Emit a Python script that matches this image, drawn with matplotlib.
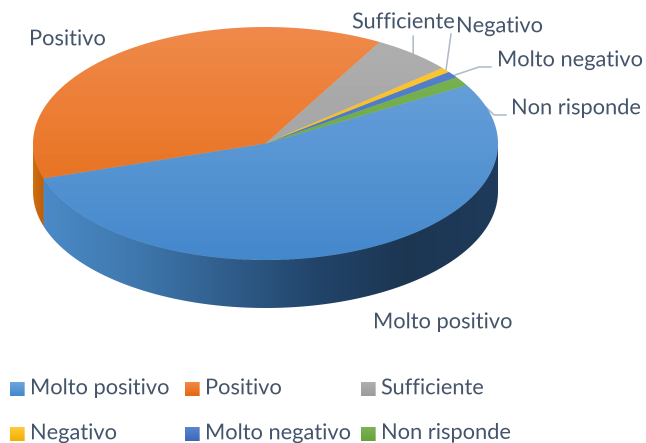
"""
Torta 3D con etichette esterne e legenda su due righe
"""
import io
import matplotlib
matplotlib.use('Agg')
import matplotlib.pyplot as plt
from matplotlib.colors import LinearSegmentedColormap
from matplotlib.patches import Rectangle, PathPatch
from matplotlib.path import Path
import numpy as np

categorie = ['Molto positivo', 'Positivo', 'Sufficiente', 'Negativo', 'Molto negativo', 'Non risponde']
valori = [53.5, 38.0, 5.6, 0.7, 0.9, 1.3]

# colori (alto, basso) del piano superiore
colori_top = [('#70a6dd', '#4488cc'), ('#f08a4b', '#e5690f'), ('#b0b0b0', '#9c9c9c'),
              ('#ffcb3a', '#f0b000'), ('#5b86cf', '#3a68b8'), ('#7cb455', '#66a33c')]
colori_lato = [['#4a8ac6', '#3f78ae', '#305e8c', '#22446a', '#1c3652', '#1f3b5b'],
               ['#d0700f', '#bd5f0c'], ['#7a7a7a', '#6a6a6a'], ['#b88a00', '#a07800'],
               ['#2c4d88', '#24407a'], ['#4e7d2e', '#446e28']]
colore_testo = '#44546a'
colore_linea = '#adb9ca'

W, H = 646, 443
CX, CY, A, B = 265.5, 143.5, 232.5, 116.5
PROF = 48 / B
SCALA = 3

plt.rcParams['font.family'] = ['Lato', 'DejaVu Sans']


def px(x, y):
    # da pixel dell'immagine a coordinate del grafico
    return (x - CX) / A, (CY - y) / B


def gradiente(ax, colori, patch, extent, orizzontale=False):
    cmap = LinearSegmentedColormap.from_list('g', colori)
    g = np.linspace(0, 1, 256)
    g = g.reshape(1, -1) if orizzontale else g.reshape(-1, 1)
    im = ax.imshow(g, cmap=cmap, extent=extent, origin='upper', aspect='auto',
                   interpolation='bilinear', zorder=patch.get_zorder() - 0.1)
    im.set_clip_path(patch)


fig = plt.figure(figsize=(W / 100, H / 100), dpi=100)
ax = fig.add_axes([0, 0, 1, 1])

wedges, _ = ax.pie(valori, startangle=30, counterclock=False, radius=1)

# fianco del cilindro, solo la parte anteriore (180-360 gradi)
for i, w in enumerate(wedges):
    for k in (-360, 0, 360):
        t1 = max(w.theta1 + k, 180)
        t2 = min(w.theta2 + k, 360)
        if t2 <= t1:
            continue
        t = np.radians(np.linspace(t1, t2, 120))
        sup = np.column_stack([np.cos(t), np.sin(t)])
        inf = sup[::-1] - [0, PROF]
        lato = PathPatch(Path(np.vstack([sup, inf, sup[:1]])), facecolor='none',
                         edgecolor='none', zorder=2)
        ax.add_patch(lato)
        gradiente(ax, colori_lato[i], lato, (sup[:, 0].min(), sup[:, 0].max(), -1 - PROF, 1),
                  orizzontale=True)

# piano superiore
for i, w in enumerate(wedges):
    w.set_facecolor('none')
    w.set_edgecolor('none')
    w.set_zorder(4)
    gradiente(ax, colori_top[i], w, (-1, 1, -1, 1))

# etichette
etichette = [(373, 322, 'Molto positivo'), (29, 39, 'Positivo'), (352, 22, 'Sufficiente'),
             (456, 26, 'Negativo'), (497, 60, 'Molto negativo'), (511, 108, 'Non risponde')]
for x, y, testo in etichette:
    ax.text(*px(x, y), testo, color=colore_testo, fontsize=15.7, va='center', ha='left', zorder=6)

# linee guida
guide = [[(413, 36), (413, 54)],
         [(451, 34), (446, 70)],
         [(491, 67), (479, 67), (452, 76)],
         [(506, 115), (494, 115), (463, 85)]]
for g in guide:
    xy = np.array([px(*p) for p in g])
    ax.plot(xy[:, 0], xy[:, 1], color=colore_linea, lw=1.1, zorder=3.5)

# legenda
legenda = [(10, 382), (185, 382), (361, 382), (10, 427), (185, 427), (361, 427)]
for (x, y), nome, col in zip(legenda, categorie, colori_top):
    x0, y0 = px(x, y + 14)
    x1, y1 = px(x + 14.5, y)
    r = Rectangle((x0, y0), x1 - x0, y1 - y0, facecolor='none', edgecolor='none', zorder=5)
    ax.add_patch(r)
    gradiente(ax, col, r, (x0, x1, y0, y1))
    ax.text(*px(x + 20, y + 6), nome, color=colore_testo, fontsize=15.7, va='center', ha='left', zorder=6)

ax.set_aspect('auto')
ax.set_xlim(px(0, 0)[0], px(W, 0)[0])
ax.set_ylim(px(0, H)[1], px(0, 0)[1])
ax.axis('off')

# render a risoluzione maggiore e media a blocchi per bordi morbidi
buf = io.BytesIO()
fig.savefig(buf, dpi=100 * SCALA, format='png')
plt.close(fig)
buf.seek(0)
img = plt.imread(buf)[:, :, :3]
img = img.reshape(H, SCALA, W, SCALA, 3).mean(axis=(1, 3))
plt.imsave('out.png', img)
